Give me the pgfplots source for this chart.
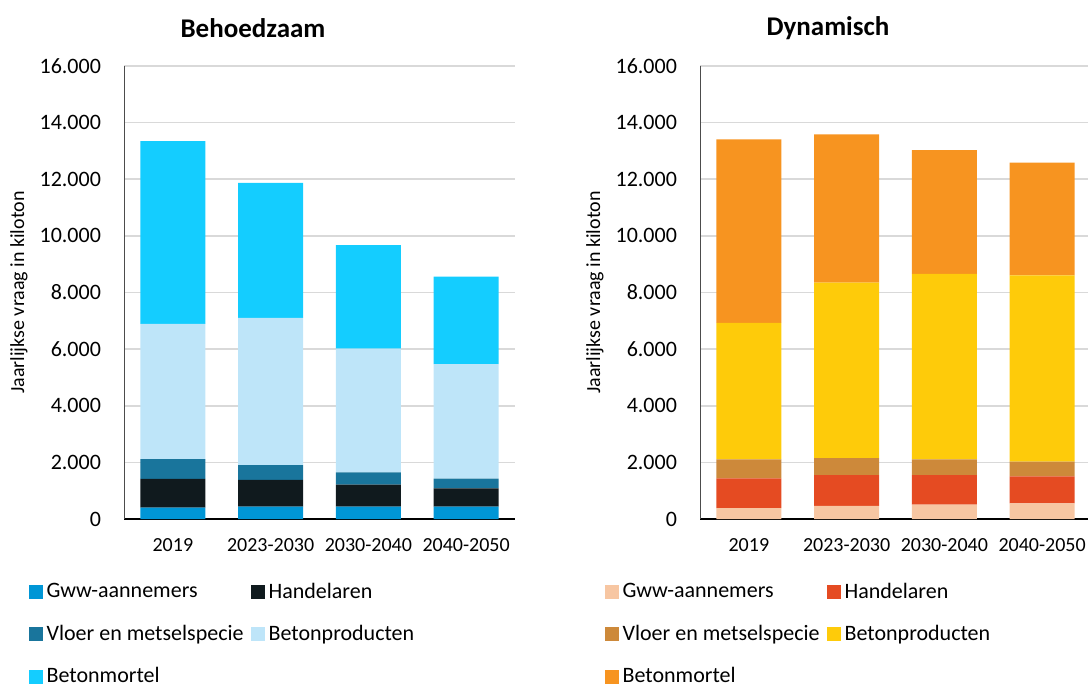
\documentclass[border=0pt]{standalone}
\usepackage{fontspec}
\setmainfont{Carlito}
\usepackage{pgfplots}
\pgfplotsset{compat=1.18}
\definecolor{bA}{HTML}{0096D6}
\definecolor{bB}{HTML}{101A1E}
\definecolor{bC}{HTML}{19759C}
\definecolor{bD}{HTML}{BEE5F9}
\definecolor{bE}{HTML}{14CDFF}
\definecolor{oA}{HTML}{F7C6A2}
\definecolor{oB}{HTML}{E54B22}
\definecolor{oC}{HTML}{CD893A}
\definecolor{oD}{HTML}{FECB0A}
\definecolor{oE}{HTML}{F79420}
\definecolor{gridc}{HTML}{D9D9D9}
\pgfplotsset{
  mystyle/.style={
    ybar stacked,
    scale only axis,
    width=195.5pt, height=226.5pt,
    anchor=north west,
    xmin=-0.5, xmax=3.5,
    ymin=0, ymax=16000,
    ytick={0,2000,...,16000},
    xtick={0,1,2,3},
    xticklabels={2019,2023-2030,2030-2040,2040-2050},
    bar width=32.5pt,
    axis lines*=left,
    x axis line style={black, line width=1pt},
    y axis line style={black!70, line width=0.5pt},
    major tick length=0pt,
    ymajorgrids,
    grid style={gridc, line width=0.8pt},
    yticklabel style={xshift=-8pt, font=\fontsize{11}{13}\selectfont},
    xticklabel style={yshift=-6pt, font=\fontsize{10}{12}\selectfont},
    /pgf/number format/.cd, 1000 sep={.}, assume math mode=true,
    /pgfplots/.cd,
    scaled y ticks=false,
    ylabel={Jaarlijkse vraag in kiloton},
    every axis y label/.style={at={(axis description cs:-0.2685,0.5)}, rotate=90, anchor=center, font=\fontsize{10}{12}\selectfont},
    legend columns=2,
    legend cell align=left,
    legend style={draw=none, fill=none, inner sep=0pt, row sep=8pt,
      font=\fontsize{11}{13}\selectfont,
      at={(axis description cs:-0.245,-0.1315)}, anchor=north west},
    legend image code/.code={\fill[##1] (0pt,-3.5pt) rectangle (7pt,3.5pt);},
  }
}
\begin{document}
\begin{tikzpicture}
\useasboundingbox (0,0) rectangle (544pt,-343pt);
\node[font=\bfseries\fontsize{13.5}{15}\selectfont] at (126.5pt,-14pt) {Behoedzaam};
\node[font=\bfseries\fontsize{13.5}{15}\selectfont] at (414pt,-14pt) {Dynamisch};
\begin{axis}[mystyle, at={(62pt,-33pt)}]
\addplot[fill=bA, draw=none] coordinates {(0,400) (1,435) (2,435) (3,435)};
\addlegendentry{\makebox[100pt][l]{Gww-aannemers}}
\addplot[fill=bB, draw=none] coordinates {(0,1020) (1,950) (2,775) (3,650)};
\addlegendentry{Handelaren}
\addplot[fill=bC, draw=none] coordinates {(0,695) (1,520) (2,440) (3,340)};
\addlegendentry{\makebox[100pt][l]{Vloer en metselspecie}}
\addplot[fill=bD, draw=none] coordinates {(0,4775) (1,5195) (2,4370) (3,4045)};
\addlegendentry{Betonproducten}
\addplot[fill=bE, draw=none] coordinates {(0,6455) (1,4775) (2,3655) (3,3095)};
\addlegendentry{\makebox[100pt][l]{Betonmortel}}
\end{axis}
\begin{axis}[mystyle, at={(350pt,-33pt)}]
\addplot[fill=oA, draw=none] coordinates {(0,380) (1,465) (2,510) (3,555)};
\addlegendentry{\makebox[100pt][l]{Gww-aannemers}}
\addplot[fill=oB, draw=none] coordinates {(0,1055) (1,1085) (2,1040) (3,950)};
\addlegendentry{Handelaren}
\addplot[fill=oC, draw=none] coordinates {(0,670) (1,600) (2,555) (3,520)};
\addlegendentry{\makebox[100pt][l]{Vloer en metselspecie}}
\addplot[fill=oD, draw=none] coordinates {(0,4825) (1,6200) (2,6550) (3,6580)};
\addlegendentry{Betonproducten}
\addplot[fill=oE, draw=none] coordinates {(0,6480) (1,5235) (2,4375) (3,3985)};
\addlegendentry{\makebox[100pt][l]{Betonmortel}}
\end{axis}
\end{tikzpicture}
\end{document}
